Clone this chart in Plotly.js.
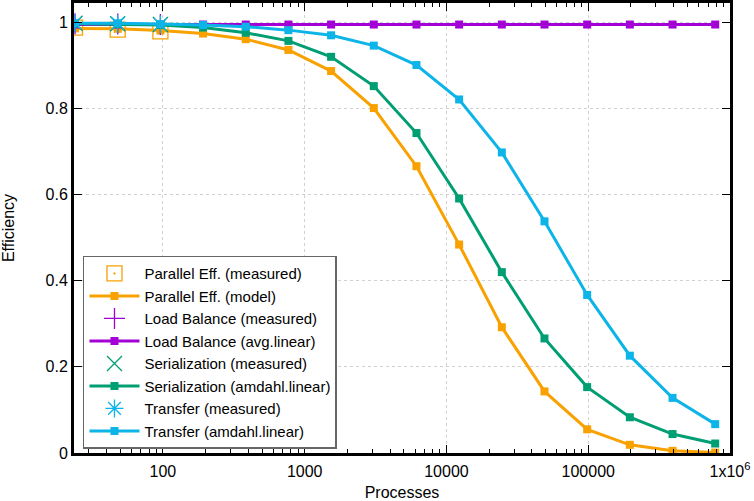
<!DOCTYPE html>
<html>
<head>
<meta charset="utf-8">
<script src="https://cdn.plot.ly/plotly-3.0.1.min.js"></script>
<style>
  html, body { margin: 0; padding: 0; background: #fff; }
  #chart { width: 754px; height: 501px; }
</style>
</head>
<body>
<div id="chart"></div>
<script>
// process counts (x axis, log scale)
const procs = [24, 48, 96, 192, 384, 768, 1536, 3072, 6144, 12288, 24576, 49152, 98304, 196608, 393216, 786432];
const procsMeasured = [24, 48, 96];

// measured efficiencies
const parEffMeasured = [0.988, 0.983, 0.979];
const loadBalMeasured = [0.997, 0.996, 0.995];
const serialMeasured = [0.998, 0.997, 0.995];
const transferMeasured = [0.998, 0.997, 0.995];

// modelled curves
const parEffModel = [0.986, 0.985, 0.981, 0.974, 0.961, 0.936, 0.887, 0.801, 0.666, 0.484, 0.292, 0.143, 0.055, 0.019, 0.005, 0.001];
const loadBalModel = [0.995, 0.995, 0.995, 0.995, 0.995, 0.995, 0.995, 0.995, 0.995, 0.995, 0.995, 0.995, 0.995, 0.995, 0.995, 0.995];
const serialModel = [0.997, 0.996, 0.994, 0.988, 0.976, 0.957, 0.920, 0.852, 0.743, 0.591, 0.420, 0.266, 0.153, 0.083, 0.044, 0.022];
const transferModel = [0.998, 0.998, 0.996, 0.994, 0.990, 0.982, 0.970, 0.946, 0.901, 0.821, 0.698, 0.538, 0.367, 0.226, 0.128, 0.067];

const xTickVals = [100, 1000, 10000, 100000, 1000000];
const xTickText = ["100", "1000", "10000", "100000", "1x10<sup>6</sup>"];

const ORANGE = "#f8a100";
const PURPLE = "#a300d6";
const GREEN = "#009e73";
const BLUE = "#0db4e8";

function measured(name, y, color, symbol) {
    return {
        x: procsMeasured, y: y, name: name,
        mode: "markers", type: "scatter",
        marker: { symbol: symbol, size: 15, color: color, line: { color: color, width: 1.3 } }
    };
}
function model(name, y, color) {
    return {
        x: procs, y: y, name: name,
        mode: "lines+markers", type: "scatter",
        line: { color: color, width: 3 },
        marker: { symbol: "square", size: 8, color: color }
    };
}

const traces = [
    measured("Parallel Eff. (measured)", parEffMeasured, ORANGE, "square-open-dot"),
    model("Parallel Eff. (model)", parEffModel, ORANGE),
    measured("Load Balance (measured)", loadBalMeasured, PURPLE, "cross-thin-open"),
    model("Load Balance (avg.linear)", loadBalModel, PURPLE),
    measured("Serialization (measured)", serialMeasured, GREEN, "x-thin-open"),
    model("Serialization (amdahl.linear)", serialModel, GREEN),
    measured("Transfer (measured)", transferMeasured, BLUE, "asterisk-open"),
    model("Transfer (amdahl.linear)", transferModel, BLUE)
];

// minor ticks 2..9 in every decade
const minorVals = [];
for (let d = 10; d < 1000000; d *= 10) {
    for (let k = 2; k <= 9; k++) minorVals.push(k * d);
}

const FONT = "Liberation Sans, Arial, sans-serif";

const layout = {
    width: 754,
    height: 501,
    margin: { l: 74, r: 24, t: 3, b: 48 },
    paper_bgcolor: "#fff",
    plot_bgcolor: "#fff",
    font: { family: FONT, size: 16, color: "#000" },
    showlegend: true,
    xaxis: {
        type: "log",
        range: [Math.log10(23.6), 6.0],
        tickmode: "array",
        tickvals: xTickVals,
        ticktext: xTickText,
        ticks: "inside",
        ticklen: 8,
        tickwidth: 1,
        tickcolor: "#000",
        ticklabelstandoff: 2,
        minor: { tickmode: "array", tickvals: minorVals, ticks: "inside", ticklen: 4, tickcolor: "#000", showgrid: false },
        showgrid: true,
        gridcolor: "#d0d0d0",
        griddash: "dot",
        gridwidth: 1,
        zeroline: false,
        showline: true,
        linecolor: "#000",
        linewidth: 3,
        mirror: "allticks",
        title: { text: "Processes", font: { size: 16 }, standoff: 8 }
    },
    yaxis: {
        range: [0, 1.045],
        tickvals: [0, 0.2, 0.4, 0.6, 0.8, 1],
        ticks: "inside",
        ticklen: 8,
        tickwidth: 1,
        tickcolor: "#000",
        showgrid: true,
        gridcolor: "#d0d0d0",
        griddash: "dot",
        gridwidth: 1,
        zeroline: false,
        showline: true,
        linecolor: "#000",
        linewidth: 3,
        mirror: "allticks",
        title: { text: "Efficiency", font: { size: 16 }, standoff: 27 }
    },
    legend: {
        x: 0.0137,
        y: 0.0096,
        xanchor: "left",
        yanchor: "bottom",
        bgcolor: "#fff",
        bordercolor: "#666",
        borderwidth: 1.5,
        font: { family: FONT, size: 15, color: "#000" },
        itemwidth: 50,
        tracegroupgap: 0
    }
};

Plotly.newPlot("chart", traces, layout, { displayModeBar: false, staticPlot: true });
</script>
</body>
</html>
